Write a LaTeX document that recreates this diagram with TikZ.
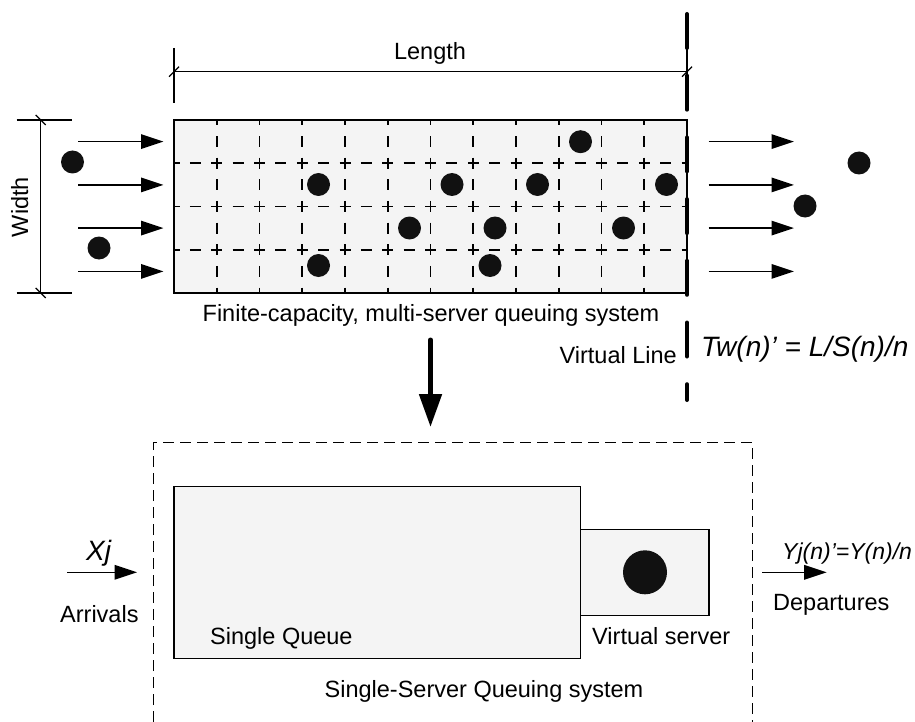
\documentclass[tikz,border=0pt]{standalone}
\usepackage{fontspec}
\setmainfont{Liberation Sans}
\usetikzlibrary{arrows.meta}
\definecolor{boxfill}{HTML}{F4F4F4}
\definecolor{dotc}{HTML}{111111}
\begin{document}
\begin{tikzpicture}[x=1pt,y=-1pt,
  txt/.style={inner sep=0pt, font=\fontsize{23.5}{28}\selectfont},
  itxt/.style={inner sep=0pt, font=\fontsize{28}{32}\selectfont\itshape},
  stxt/.style={inner sep=0pt, font=\fontsize{23}{27}\selectfont\itshape},
  dot/.style={circle, fill=dotc, inner sep=0pt, minimum size=23pt},
  bigdot/.style={circle, fill=dotc, inner sep=0pt, minimum size=44pt},
  flow/.style={line width=1.6pt, -{Triangle[length=22.5pt,width=14.5pt]}},
  dimline/.style={line width=1.3pt},
  hgrid/.style={line width=1.6pt, dash pattern=on 11pt off 10.375pt, dash phase=5.5pt},
  vgrid/.style={line width=1.6pt, dash pattern=on 11pt off 10.625pt, dash phase=5.5pt},
  boxdash/.style={line width=1.4pt, dash pattern=on 11pt off 6pt},
  solidbox/.style={draw, line width=1.4pt, fill=boxfill}
]
\useasboundingbox (0,0) rectangle (915,722);

% ---------- grid (multi-server system) ----------
\fill[boxfill] (174,120) rectangle (687,293);
\foreach \i in {1,...,11}
  \draw[vgrid] ({174+\i*42.75},120) -- ({174+\i*42.75},293);
\foreach \j in {1,2,3}
  \draw[hgrid] (174,{120+\j*43.25}) -- (687,{120+\j*43.25});
\draw[line width=1.5pt] (174,120) rectangle (687,293);

% ---------- Length dimension ----------
\coordinate (lenL) at (174,71.7);
\coordinate (lenR) at (687,71.7);
\draw[dimline] (lenL) -- (lenR);
\draw[dimline] (174,48) -- (174,103);
\draw[dimline] (687,48) -- (687,103);
\draw[dimline] (169,76.7) -- (179,66.7);
\draw[dimline] (682,76.7) -- (692,66.7);
\node[txt, anchor=base] (length) at (430,59.3) {Length};

% ---------- Width dimension ----------
\coordinate (widT) at (40.7,120);
\coordinate (widB) at (40.7,293);
\draw[dimline] (widT) -- (widB);
\draw[dimline] (16.7,120) -- (71.7,120);
\draw[dimline] (16.7,293) -- (71.7,293);
\draw[dimline] (35.7,115) -- (45.7,125);
\draw[dimline] (35.7,288) -- (45.7,298);
\node[txt, anchor=base, rotate=90] (width) at (28,207) {Width};

% ---------- virtual line ----------
\draw[line width=4pt, line cap=round, dash pattern=on 34pt off 27.7pt] (687,14) -- (687,400);

% ---------- arrows in / out ----------
\foreach \y [count=\k] in {141.6,184.9,228.1,271.4} {
  \coordinate (inA\k) at (78,\y);
  \coordinate (inB\k) at (163.5,\y);
  \coordinate (outA\k) at (708.7,\y);
  \coordinate (outB\k) at (794,\y);
  \draw[flow] (inA\k) -- (inB\k);
  \draw[flow] (outA\k) -- (outB\k);
}

% ---------- customers ----------
\node[dot] (d1) at (72.5,162) {};
\node[dot] (d2) at (99,248) {};
\node[dot] (d3) at (318.5,184.5) {};
\node[dot] (d4) at (318.5,265.5) {};
\node[dot] (d5) at (409.5,228) {};
\node[dot] (d6) at (452,184.5) {};
\node[dot] (d7) at (495,228) {};
\node[dot] (d8) at (490,265.5) {};
\node[dot] (d9) at (537.5,184.5) {};
\node[dot] (d10) at (580.5,141.7) {};
\node[dot] (d11) at (623.5,228) {};
\node[dot] (d12) at (666.5,184.5) {};
\node[dot] (d13) at (859,163) {};
\node[dot] (d14) at (805,206) {};

% ---------- labels top ----------
\node[txt, anchor=base] (finite) at (431,321.7) {Finite-capacity, multi-server queuing system};
\node[txt, anchor=base east] (vline) at (677,363.3) {Virtual Line};
\node[itxt, anchor=base west] (tw) at (701,356) {Tw(n)’ = L/S(n)/n};

% ---------- big down arrow ----------
\coordinate (downA) at (430.5,340);
\coordinate (downB) at (430.5,427);
\draw[line width=5pt, line cap=round, -{Triangle[length=33pt,width=22pt]}] (downA) -- (downB);

% ---------- single server system ----------
\draw[boxdash] (153.3,722) -- (153.3,442.7) -- (752.7,442.7) -- (752.7,722);
\draw[solidbox] (174,486.7) rectangle (580.5,658.3);
\draw[solidbox] (580.5,529.3) rectangle (709,615.7);
\node[bigdot] (server) at (645,572.3) {};

\coordinate (arrA) at (67,572.3);
\coordinate (arrB) at (137,572.3);
\draw[flow] (arrA) -- (arrB);
\coordinate (depA) at (762,572.3);
\coordinate (depB) at (826.7,572.3);
\draw[flow] (depA) -- (depB);

\node[itxt, anchor=base west] (xj) at (86,560) {Xj};
\node[txt, anchor=base west] (arrivals) at (60,622.7) {Arrivals};
\node[txt, anchor=base west] (squeue) at (210,644) {Single Queue};
\node[txt, anchor=base west] (vserver) at (592,644) {Virtual server};
\node[stxt, anchor=base west] (yj) at (782,559) {Yj(n)’=Y(n)/n};
\node[txt, anchor=base west] (departures) at (773,610.7) {Departures};
\node[txt, anchor=base] (ssq) at (484,697.7) {Single-Server Queuing system};
\end{tikzpicture}
\end{document}
